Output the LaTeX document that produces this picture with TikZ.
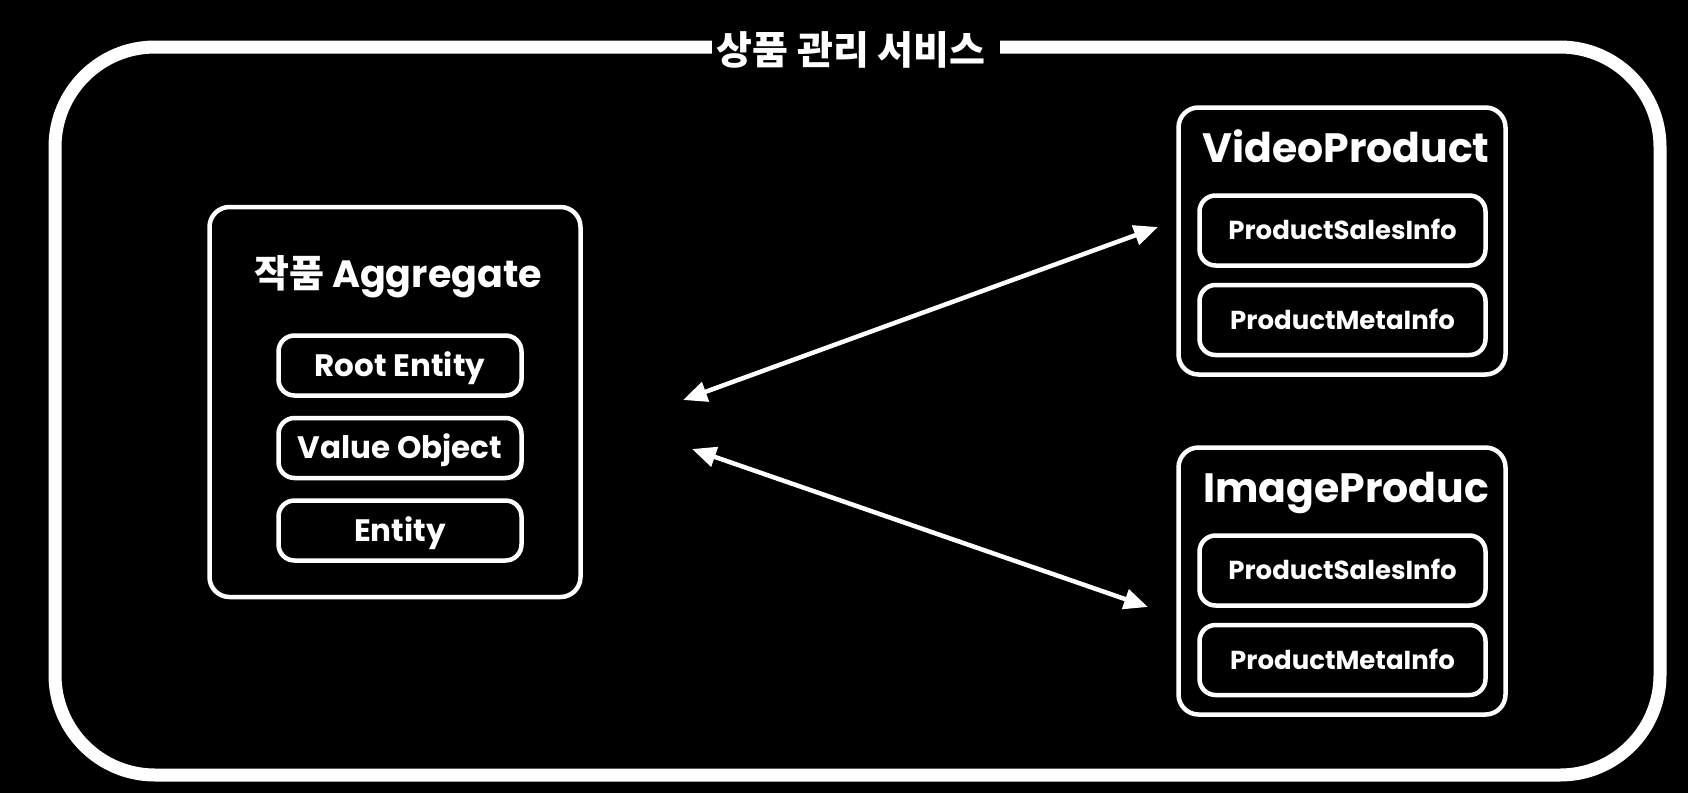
\documentclass[tikz,border=0pt]{standalone}
\usepackage{fontspec}
\setmainfont{Poppins}
\newfontfamily\kr{Noto Sans CJK KR}
\usetikzlibrary{arrows.meta}
\begin{document}
\begin{tikzpicture}[x=1pt,y=-1pt,
  frame/.style={draw=white,line width=13pt,rounded corners=100pt},
  bigbox/.style={draw=white,line width=4.5pt,rounded corners=20pt,inner sep=0pt,minimum width=327pt,minimum height=267pt},
  aggbox/.style={draw=white,line width=4.5pt,rounded corners=20pt,inner sep=0pt,minimum width=371pt,minimum height=390pt},
  itembox/.style={draw=white,line width=4.5pt,rounded corners=16pt,inner sep=0pt,text=white,text depth=0pt},
  aggitem/.style={itembox,minimum width=243pt,minimum height=60pt,text height=21.7pt,font=\fontsize{31}{31}\selectfont\bfseries},
  proditem/.style={itembox,minimum width=286pt,minimum height=70pt,text height=18.2pt,font=\fontsize{26}{26}\selectfont\bfseries},
  boxtitle/.style={text=white,inner sep=0pt,font=\fontsize{41}{41}\selectfont\bfseries},
  link/.style={draw=white,line width=4.5pt,{Triangle[length=24pt,width=20pt]}-{Triangle[length=24pt,width=20pt]}}
]
\fill[black] (0,0) rectangle (1688,793);
\useasboundingbox (0,0) rectangle (1688,793);

% outer service frame
\draw[frame] (55,47) rectangle (1660,775);
\fill[black] (712,32) rectangle (1000,62);
\node[text=white,inner sep=0pt,font=\kr\bfseries\fontsize{39}{39}\selectfont] (svc) at (851,50) {상품 관리 서비스};

% aggregate
\node[aggbox] (agg) at (395,402) {};
\node[text=white,inner sep=0pt,anchor=base,font=\fontsize{38}{38}\selectfont\bfseries] (aggtitle) at (398,287) {{\kr 작품} Aggregate};
\node[aggitem] (root) at (400,365.5) {Root Entity};
\node[aggitem] (vo) at (400,448) {Value Object};
\node[aggitem] (ent) at (400,530.5) {Entity};

% video product
\node[bigbox] (video) at (1342,241) {};
\node[boxtitle,anchor=base west] (videotitle) at (1202,162) {VideoProduct};
\node[proditem] (vsales) at (1342.5,230.5) {ProductSalesInfo};
\node[proditem] (vmeta) at (1342.5,320) {ProductMetaInfo};

% image product
\node[bigbox] (image) at (1342,581) {};
\node[boxtitle,anchor=base west] (imagetitle) at (1203,502) {ImageProduc};
\node[proditem] (isales) at (1342.5,570.5) {ProductSalesInfo};
\node[proditem] (imeta) at (1342.5,660) {ProductMetaInfo};

% arrows
\coordinate (a1s) at (683,400);
\coordinate (a1e) at (1158,227);
\coordinate (a2s) at (692,449);
\coordinate (a2e) at (1148,607);
\draw[link] (a1s) -- (a1e);
\draw[link] (a2s) -- (a2e);
\end{tikzpicture}
\end{document}
